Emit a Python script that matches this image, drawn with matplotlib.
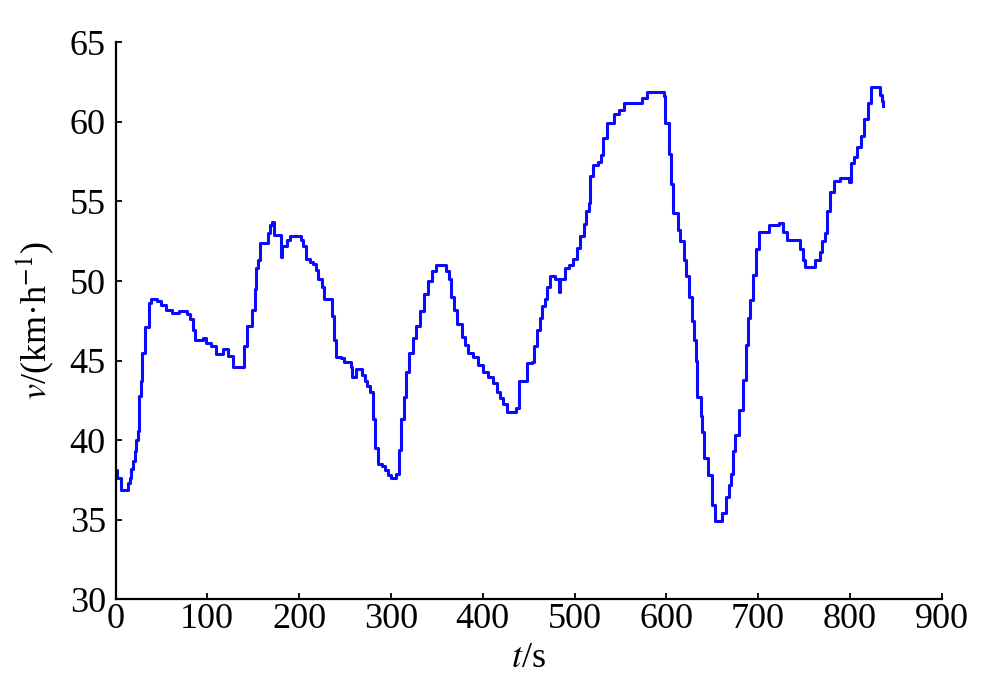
import matplotlib
matplotlib.use("Agg")
import matplotlib.pyplot as plt

# speed profile (value holds from each t until the next)
t_s = [0, 2, 6, 13.5, 15.5, 16.5, 19, 21.5, 22.6, 24.3, 25.4, 26.1, 27.5, 29, 32.2,
       36.8, 38.6, 45.6, 49.3, 54.6, 61.6, 68.8, 75.9, 77.6, 81.2, 84.8, 86.6, 95.4,
       98.9, 104.3, 109.6, 116.8, 122.2, 127.5, 140, 143.6, 148.9, 152.5, 153.5, 155,
       157.2, 165.7, 168.5, 170.3, 172.8, 180.3, 181.5, 187.1, 189.9, 202.5, 204.3,
       207.1, 211.4, 215, 218.5, 220.4, 225, 227.4, 235.7, 238.2, 240.7, 245.3, 248.9,
       256.1, 257.1, 261.6, 268.6, 271.4, 274, 277.5, 280, 281, 282.8, 286.2, 289.8,
       293.4, 296.9, 300.5, 305.9, 308.4, 311.2, 314, 316.6, 320.1, 323.7, 327.3,
       331.9, 336.2, 340.5, 345.1, 348.7, 360.5, 363, 365.4, 369, 371.8, 377.2, 380.8,
       384.4, 389.7, 395.1, 400.8, 406.2, 411.7, 415.3, 419, 422.6, 426.2, 436.5, 439,
       448.1, 453.5, 456.2, 459, 461.9, 464.4, 467.4, 469.9, 472.8, 479, 482.7, 483.8,
       489.9, 493.5, 498.1, 502.6, 506.3, 510, 513, 515.6, 516.7, 520.3, 526, 528.6,
       531.4, 535.9, 543.3, 548.9, 554.4, 573.7, 578.6, 597, 598.9, 602.5, 605.5,
       607.4, 612.9, 615.4, 619.1, 621, 624.3, 627.6, 629.8, 632, 633.9, 637.5, 639.4,
       641.1, 644.9, 649.3, 652.9, 660.6, 665, 668, 670.5, 672.4, 675.3, 679.7, 683.4,
       687.1, 689, 690.7, 694.5, 698.2, 701.1, 712.4, 722.3, 727.5, 731.1, 745.4,
       749.3, 751, 761.8, 767, 769.5, 772.8, 775, 778.3, 782.4, 789.3, 798.9, 801.5,
       804.5, 808.2, 811.6, 815.7, 819.4, 822.8, 832.9, 835.1, 836.3]
v_kmh = [38.1, 37.6, 36.9, 37.3, 37.6, 38.2, 38.7, 39.3, 40.0, 40.6, 41.5, 42.8, 43.7,
         45.5, 47.1, 48.6, 48.9, 48.75, 48.5, 48.2, 48.0, 48.1, 48.1, 47.9, 47.6, 46.9,
         46.3, 46.4, 46.1, 45.9, 45.4, 45.7, 45.3, 44.6, 45.9, 47.2, 48.2, 49.5, 50.8,
         51.3, 52.4, 53.0, 53.5, 53.7, 52.9, 51.5, 52.2, 52.6, 52.8, 52.6, 52.2, 51.4,
         51.2, 51.1, 50.7, 50.1, 49.65, 48.9, 47.8, 46.3, 45.25, 45.15, 44.9, 44.6,
         44.0, 44.5, 44.1, 43.7, 43.4, 43.0, 42.5, 41.3, 39.5, 38.5, 38.4, 38.1, 37.8,
         37.6, 37.9, 39.4, 41.3, 42.7, 44.3, 45.5, 46.4, 47.2, 48.1, 49.2, 50.0, 50.6,
         51.0, 50.6, 50.1, 49.0, 48.2, 47.3, 46.5, 46.0, 45.5, 45.2, 44.7, 44.3, 44.0,
         43.6, 43.0, 42.65, 42.3, 41.8, 42.0, 43.7, 44.85, 44.9, 45.9, 46.9, 47.7,
         48.4, 48.9, 49.65, 50.3, 50.1, 49.3, 50.1, 50.8, 51.0, 51.4, 52.1, 52.8, 53.6,
         54.4, 54.9, 56.6, 57.3, 57.5, 57.9, 59.0, 59.9, 60.5, 60.75, 61.2, 61.5, 61.9,
         61.6, 59.9, 58.0, 56.1, 54.3, 53.2, 52.5, 51.3, 50.3, 49.0, 47.5, 46.3, 45.0,
         42.7, 41.5, 40.5, 38.9, 37.8, 35.9, 34.9, 35.4, 36.4, 37.2, 37.9, 39.3, 40.3,
         41.9, 43.8, 46.0, 47.7, 48.8, 50.4, 52.0, 53.1, 53.5, 53.65, 53.1, 52.6, 52.0,
         51.3, 50.9, 51.3, 51.8, 52.5, 53.0, 54.4, 55.6, 56.3, 56.5, 56.2, 57.4, 57.8,
         58.4, 59.1, 60.2, 61.2, 62.2, 61.7, 61.3, 61.0]

x_ticks = [0, 100, 200, 300, 400, 500, 600, 700, 800, 900]
y_ticks = [30, 35, 40, 45, 50, 55, 60, 65]

plt.rcParams["font.family"] = ["Liberation Serif", "DejaVu Serif"]
plt.rcParams["mathtext.fontset"] = "stix"

fig = plt.figure(figsize=(10, 6.85), dpi=100)
ax = fig.add_axes([0.1155, 0.1251, 0.8262, 0.8131])

ax.step(t_s, v_kmh, where="post", color="#0a0aff", linewidth=2.2)

ax.set_xlim(0, 900)
ax.set_ylim(30, 65)
ax.set_xticks(x_ticks)
ax.set_yticks(y_ticks)
ax.spines["top"].set_visible(False)
ax.spines["right"].set_visible(False)
for s in ("left", "bottom"):
    ax.spines[s].set_linewidth(1.6)
ax.tick_params(direction="in", length=4, width=1.3, labelsize=26)
ax.tick_params(axis="y", pad=7)
ax.tick_params(axis="x", pad=3)

ax.set_xlabel(r"$t$/s", fontsize=26, labelpad=4)
ax.set_ylabel(r"$v$/(km·h$^{-1}$)", fontsize=26, labelpad=10)

fig.savefig("out.png", dpi=100, facecolor="white")
